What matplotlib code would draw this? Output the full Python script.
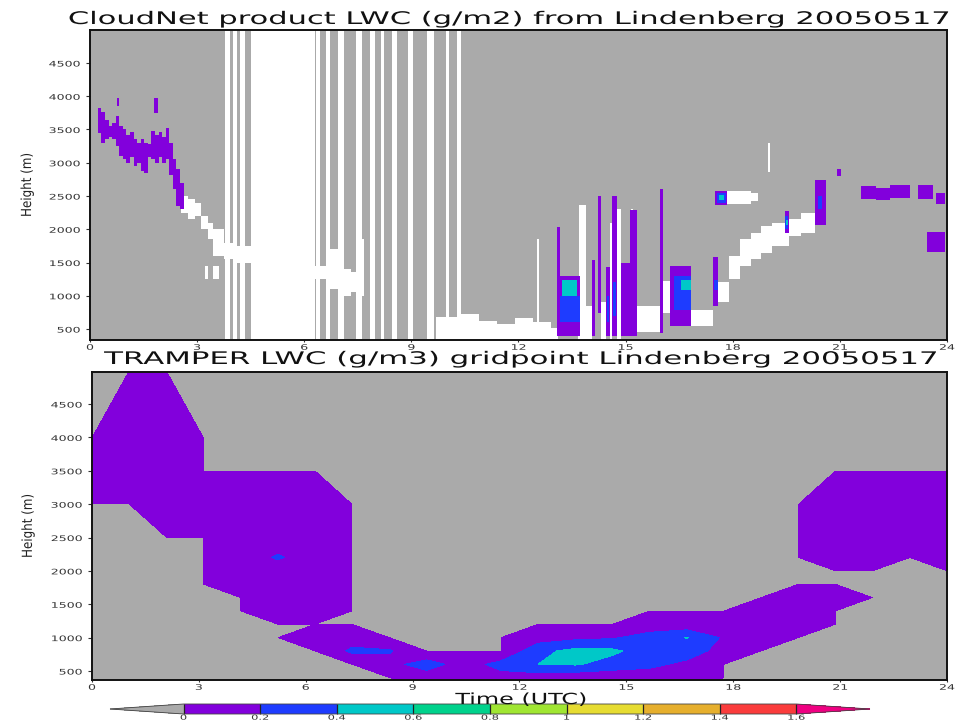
import matplotlib
matplotlib.use("Agg")
import matplotlib.pyplot as plt
from matplotlib import patheffects
from matplotlib.transforms import Affine2D
from matplotlib.colors import from_levels_and_colors
from matplotlib.cm import ScalarMappable

FIG_W, FIG_H = 970, 722

# ---------------- shading scale ----------------
lwc_levels = [0, 0.2, 0.4, 0.6, 0.8, 1.0, 1.2, 1.4, 1.6]
lwc_labels = ["0", "0.2", "0.4", "0.6", "0.8", "1", "1.2", "1.4", "1.6"]
lwc_colors = ["#8200dc", "#1e3cff", "#00c8c8", "#00d28c", "#a0e632",
              "#e6dc32", "#e6af2d", "#fa3c3c"]
below_color = "#aaaaaa"
above_color = "#f00082"

time_ticks = [0, 3, 6, 9, 12, 15, 18, 21, 24]
height_ticks = [500, 1000, 1500, 2000, 2500, 3000, 3500, 4000, 4500]

# ---------------- CloudNet observations ----------------
# (start h, end h) of periods without profiles
cloudnet_gaps = [
    (3.78, 3.92), (4.01, 4.12), (4.20, 4.34), (4.51, 6.30),
    (6.33, 6.44), (6.61, 6.72), (6.95, 7.11), (7.45, 7.62), (7.84, 7.98),
    (8.15, 8.24), (8.46, 8.60), (8.91, 9.05), (9.44, 9.64), (9.97, 10.06),
    (10.28, 10.39),
]

# (start h, end h, base m, top m): cloud detected, no LWC retrieval
cloudnet_nolwc = [
    (2.55, 2.75, 2250, 2500), (2.75, 2.95, 2150, 2450), (2.95, 3.10, 2200, 2400),
    (3.10, 3.30, 2000, 2200), (3.30, 3.45, 1850, 2100), (3.45, 3.75, 1600, 2000),
    (3.75, 4.10, 1550, 1800), (4.10, 4.50, 1500, 1750),
    (3.22, 3.30, 1250, 1450), (3.45, 3.60, 1250, 1450),
    (6.30, 6.70, 1250, 1450), (6.70, 6.95, 1100, 1700), (6.95, 7.30, 1000, 1400),
    (7.30, 7.58, 1050, 1350), (7.58, 7.66, 1000, 1850),
    (9.70, 10.30, 335, 680), (10.30, 10.90, 335, 720), (10.90, 11.40, 335, 620),
    (11.40, 11.90, 335, 580), (11.90, 12.40, 335, 660), (12.40, 12.90, 335, 600),
    (12.90, 13.10, 335, 520), (12.52, 12.58, 335, 1850),
    (13.70, 13.90, 335, 2360), (13.67, 14.05, 335, 850), (14.30, 14.44, 335, 900),
    (14.56, 14.62, 335, 2100), (14.76, 14.86, 335, 2300), (15.15, 15.20, 1000, 2300),
    (15.33, 15.97, 450, 850), (16.05, 16.40, 740, 1220), (16.84, 17.46, 540, 780),
    (17.60, 17.90, 900, 1200), (17.90, 18.20, 1250, 1600), (18.20, 18.50, 1450, 1850),
    (18.50, 18.80, 1550, 1950), (18.80, 19.10, 1650, 2050), (19.10, 19.45, 1750, 2100),
    (19.45, 19.58, 1750, 1950), (19.58, 19.90, 1900, 2150), (19.90, 20.30, 1950, 2250),
    (17.84, 18.50, 2380, 2570), (18.50, 18.72, 2420, 2540), (19.00, 19.04, 2860, 3300),
]

# liquid water classes, same box layout
cloudnet_lwc_00_02 = [
    (0.22, 0.32, 3450, 3820), (0.32, 0.42, 3300, 3760), (0.42, 0.52, 3350, 3650),
    (0.52, 0.62, 3380, 3560), (0.62, 0.72, 3350, 3600), (0.72, 0.82, 3250, 3700),
    (0.82, 0.92, 3100, 3560), (0.92, 1.02, 3050, 3500), (1.02, 1.12, 3000, 3420),
    (1.12, 1.22, 3080, 3460), (1.22, 1.32, 2950, 3350), (1.32, 1.42, 3000, 3300),
    (1.42, 1.52, 2880, 3350), (1.52, 1.62, 2850, 3300), (1.62, 1.72, 3080, 3280),
    (1.72, 1.82, 3050, 3480), (1.82, 1.92, 3000, 3420), (1.92, 2.02, 3080, 3460),
    (2.02, 2.12, 3000, 3380), (2.12, 2.22, 3050, 3520), (2.22, 2.32, 2820, 3300),
    (2.32, 2.42, 2600, 3050), (2.42, 2.52, 2350, 2900), (2.52, 2.62, 2300, 2700),
    (0.75, 0.82, 3850, 3980), (1.80, 1.90, 3750, 3970),
    (13.07, 13.17, 390, 2040), (13.17, 13.72, 390, 1290), (14.05, 14.13, 390, 1540),
    (14.22, 14.30, 740, 2500), (14.44, 14.56, 390, 1440), (14.62, 14.76, 390, 2500),
    (14.86, 15.13, 390, 1490), (15.13, 15.33, 390, 2290), (15.97, 16.05, 440, 2600),
    (16.25, 16.84, 550, 1450), (17.46, 17.60, 840, 1590),
    (17.50, 17.84, 2370, 2570), (19.45, 19.58, 1940, 2270), (20.30, 20.60, 2060, 2740),
    (20.92, 21.02, 2800, 2900), (21.60, 22.00, 2460, 2650), (22.00, 22.40, 2440, 2620),
    (22.40, 22.95, 2470, 2670), (23.20, 23.60, 2450, 2660), (23.70, 23.95, 2380, 2540),
    (23.45, 23.95, 1660, 1960),
]
cloudnet_lwc_02_04 = [
    (13.17, 13.72, 600, 1000), (14.47, 14.53, 600, 1000), (14.65, 14.73, 700, 1200),
    (16.36, 16.84, 790, 1290), (17.48, 17.58, 1090, 1240), (17.55, 17.80, 2400, 2540),
    (19.47, 19.56, 2000, 2200), (20.38, 20.50, 2300, 2500),
]
cloudnet_lwc_04_06 = [
    (13.22, 13.65, 1000, 1230), (16.55, 16.84, 1090, 1240),
    (17.62, 17.76, 2440, 2520), (19.49, 19.54, 2060, 2140),
]

# ---------------- TRAMPER gridpoint forecast ----------------
model_hours = [0.00, 1.04, 2.09, 3.13, 4.17, 5.22, 6.26, 7.30, 8.35, 9.39,
               10.43, 11.48, 12.52, 13.57, 14.61, 15.65, 16.70, 17.74, 18.78,
               19.83, 20.87, 21.91, 22.96, 24.00]
model_heights = [200, 400, 600, 800, 1000, 1200, 1400, 1600, 1800, 2000,
                 2200, 2500, 3000, 3500, 4000, 5000]
# LWC (g/m3), one row per model height, bottom row first
model_lwc = [
    [0, 0, 0, 0, 0, 0, 0, 0, 0, 0, 0, 0, 0, 0, 0, 0, 0, 0, 0, 0, 0, 0, 0, 0],
    [0, 0, 0, 0, 0, 0, 0, 0, 0, .08, .10, .12, .08, .05, .05, .08, .05, 0, 0, 0, 0, 0, 0, 0],
    [0, 0, 0, 0, 0, 0, 0, 0, .13, .30, .10, .27, .40, .42, .32, .25, .15, 0, 0, 0, 0, 0, 0, 0],
    [0, 0, 0, 0, 0, 0, 0, .24, .22, 0, 0, 0, .34, .46, .44, .30, .30, .12, 0, 0, 0, 0, 0, 0],
    [0, 0, 0, 0, 0, 0, .10, .10, 0, 0, 0, 0, .10, .15, .18, .28, .41, .17, .10, 0, 0, 0, 0, 0],
    [0, 0, 0, 0, 0, 0, 0, 0, 0, 0, 0, 0, 0, 0, 0, .08, .05, .08, .10, .10, 0, 0, 0, 0],
    [0, 0, 0, 0, 0, .10, .10, 0, 0, 0, 0, 0, 0, 0, 0, 0, 0, 0, .10, .10, 0, 0, 0, 0],
    [0, 0, 0, 0, 0, .10, .10, 0, 0, 0, 0, 0, 0, 0, 0, 0, 0, 0, 0, .10, .10, 0, 0, 0],
    [0, 0, 0, 0, .10, .10, .10, 0, 0, 0, 0, 0, 0, 0, 0, 0, 0, 0, 0, 0, 0, 0, 0, 0],
    [0, 0, 0, 0, .10, .10, .10, 0, 0, 0, 0, 0, 0, 0, 0, 0, 0, 0, 0, 0, 0, 0, 0, 0],
    [0, 0, 0, 0, .10, .22, .10, 0, 0, 0, 0, 0, 0, 0, 0, 0, 0, 0, 0, 0, .10, .10, 0, .10],
    [0, 0, 0, 0, .10, .10, .10, 0, 0, 0, 0, 0, 0, 0, 0, 0, 0, 0, 0, 0, .10, .10, .10, .10],
    [0, 0, .10, .10, .10, .10, .10, 0, 0, 0, 0, 0, 0, 0, 0, 0, 0, 0, 0, 0, .10, .10, .10, .10],
    [.10, .10, .10, 0, 0, 0, 0, 0, 0, 0, 0, 0, 0, 0, 0, 0, 0, 0, 0, 0, 0, 0, 0, 0],
    [0, .10, .10, 0, 0, 0, 0, 0, 0, 0, 0, 0, 0, 0, 0, 0, 0, 0, 0, 0, 0, 0, 0, 0],
    [0, 0, 0, 0, 0, 0, 0, 0, 0, 0, 0, 0, 0, 0, 0, 0, 0, 0, 0, 0, 0, 0, 0, 0],
]


class Widen(patheffects.AbstractPathEffect):
    """Draw glyph outlines stretched along the writing direction."""

    def __init__(self, factor, anchor="center"):
        super().__init__()
        self.factor = factor
        self.anchor = anchor

    def draw_path(self, renderer, gc, tpath, affine, rgbFace=None):
        if len(tpath.vertices) == 0:
            return
        ext = tpath.get_extents()
        x0 = {"left": ext.x0, "right": ext.x1,
              "center": 0.5 * (ext.x0 + ext.x1)}[self.anchor]
        stretch = Affine2D().translate(-x0, 0).scale(self.factor, 1.0).translate(x0, 0)
        renderer.draw_path(gc, tpath, stretch + affine, rgbFace)


def draw_boxes(ax, boxes, color):
    ax.bar([b[0] for b in boxes], [b[3] - b[2] for b in boxes],
           width=[b[1] - b[0] for b in boxes], bottom=[b[2] for b in boxes],
           align="edge", color=color, linewidth=0, antialiased=False)


def frame(ax, ylim):
    ax.set_xlim(0, 24)
    ax.set_ylim(*ylim)
    ax.set_facecolor(below_color)
    ax.set_xticks(time_ticks)
    ax.set_xticklabels([str(t) for t in time_ticks])
    ax.set_yticks(height_ticks)
    ax.set_yticklabels([str(h) for h in height_ticks])
    ax.tick_params(axis="y", direction="out", length=3, width=0.8, pad=4,
                   labelsize=5.5, colors="#333333")
    ax.tick_params(axis="x", direction="out", length=1.5, width=0.8, pad=0.5,
                   labelsize=5.5, colors="#333333")
    for s in ax.spines.values():
        s.set_linewidth(1.4)
        s.set_color("#111111")


fig = plt.figure(figsize=(FIG_W / 100, FIG_H / 100), dpi=100)

# ---- upper panel: CloudNet ----
ax1 = fig.add_axes([90 / FIG_W, 1 - 340 / FIG_H, 857 / FIG_W, 310 / FIG_H])
frame(ax1, (335, 4996))
for t0, t1 in cloudnet_gaps:
    ax1.axvspan(t0, t1, color="white", linewidth=0)
draw_boxes(ax1, cloudnet_nolwc, "white")
draw_boxes(ax1, cloudnet_lwc_00_02, lwc_colors[0])
draw_boxes(ax1, cloudnet_lwc_02_04, lwc_colors[1])
draw_boxes(ax1, cloudnet_lwc_04_06, lwc_colors[2])
ax1.set_ylabel("Height (m)", fontsize=10, va="center", color="#222222")
ax1.yaxis.set_label_coords(-0.0735, 0.5)

# ---- lower panel: TRAMPER ----
ax2 = fig.add_axes([92 / FIG_W, 1 - 680 / FIG_H, 855 / FIG_W, 308 / FIG_H])
frame(ax2, (365, 4980))
fill_levels = [0.001] + lwc_levels[1:]
ax2.contourf(model_hours, model_heights, model_lwc, levels=fill_levels,
             colors=lwc_colors)
ax2.set_ylabel("Height (m)", fontsize=10, va="center", color="#222222")
ax2.yaxis.set_label_coords(-0.075, 0.5)

# ---- titles ----
title1 = fig.text(510 / FIG_W, 1 - 24 / FIG_H,
                  "CloudNet product LWC (g/m2) from Lindenberg 20050517",
                  ha="center", va="baseline", fontsize=12.5, color="#111111")
title2 = fig.text(521.5 / FIG_W, 1 - 364 / FIG_H,
                  "TRAMPER LWC (g/m3) gridpoint Lindenberg 20050517",
                  ha="center", va="baseline", fontsize=12.5, color="#111111")
xlabel = fig.text(521 / FIG_W, 1 - 704 / FIG_H, "Time (UTC)",
                  ha="center", va="baseline", fontsize=11, color="#111111")

# ---- colour key ----
cmap, norm = from_levels_and_colors(lwc_levels,
                                    [below_color] + lwc_colors + [above_color],
                                    extend="both")
cax = fig.add_axes([110 / FIG_W, 1 - 714 / FIG_H, 760 / FIG_W, 10 / FIG_H])
cb = fig.colorbar(ScalarMappable(norm=norm, cmap=cmap), cax=cax,
                  orientation="horizontal", extend="both", extendfrac=0.12,
                  drawedges=True)
cb.set_ticks(lwc_levels, labels=lwc_labels)
cb.ax.tick_params(length=0, pad=0.5, labelsize=5, colors="#333333")
cb.outline.set_linewidth(0.6)
cb.outline.set_edgecolor("#444444")
cb.dividers.set_color("#222222")
cb.dividers.set_linewidth(0.9)

# ---- widen glyphs to the wide plotter font ----
fig.canvas.draw()


def widen(text, target_px, anchor="center", along="x"):
    bb = text.get_window_extent()
    size = bb.width if along == "x" else bb.height
    if size > 0:
        text.set_path_effects([Widen(target_px / size, anchor)])


widen(title1, 886)
widen(title2, 837)
widen(xlabel, 132)
widen(ax1.yaxis.label, 64, along="y")
widen(ax2.yaxis.label, 64, along="y")

ref = ax1.get_yticklabels()[-1].get_window_extent().width
tick_factor = 32.0 / ref if ref > 0 else 1.0
for ax in (ax1, ax2):
    for lab in ax.get_yticklabels():
        lab.set_path_effects([Widen(tick_factor, "right")])
    for lab in ax.get_xticklabels():
        lab.set_path_effects([Widen(tick_factor, "center")])
for lab in cb.ax.get_xticklabels():
    lab.set_path_effects([Widen(tick_factor, "center")])

fig.savefig("out.png", dpi=100)
